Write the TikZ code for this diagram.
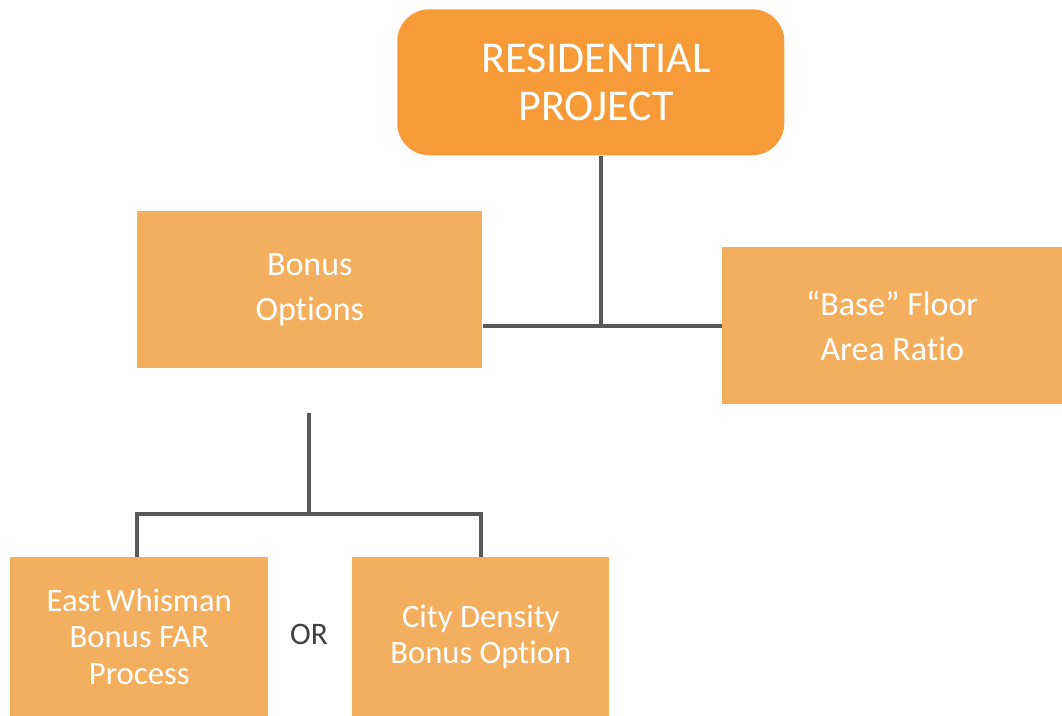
\documentclass[tikz,border=0pt]{standalone}
\usepackage{fontspec}
\setmainfont{Carlito}[Ligatures=NoCommon]
\newcommand{\nolig}{\kern0pt}
\definecolor{topor}{HTML}{F79B38}
\definecolor{boxor}{HTML}{F4AF5E}
\definecolor{linegray}{HTML}{595959}
\definecolor{ortext}{HTML}{404040}
\begin{document}
\begin{tikzpicture}[x=0.75pt,y=-0.75pt,
  box/.style={fill=boxor,draw=none,text=white,align=center,inner sep=0pt,anchor=north west},
  conn/.style={draw=linegray,line width=2.4pt}]
\useasboundingbox (0,0) rectangle (1062,716);
\node[fill=topor,rounded corners=24pt,text=white,align=center,inner sep=0pt,anchor=north west,
  minimum width=387*0.75pt,minimum height=146*0.75pt,
  font=\fontsize{33pt}{36pt}\selectfont] (top) at (397,9) {\hspace*{8pt}RESIDENTIAL\\\hspace*{8pt}PROJECT};
\node[box,minimum width=345*0.75pt,minimum height=157*0.75pt,
  font=\fontsize{25.5pt}{34pt}\selectfont] (bonus) at (137,211) {Bonus\\Opt\nolig ions};
\node[box,minimum width=340*0.75pt,minimum height=157*0.75pt,
  font=\fontsize{25.5pt}{34pt}\selectfont] (base) at (722,247) {“Base” Floor\\Area Rat\nolig io};
\node[box,minimum width=258*0.75pt,minimum height=159*0.75pt,
  font=\fontsize{24.5pt}{27.5pt}\selectfont] (east) at (10,557) {East\,Whisman\\Bonus FAR\\Process};
\node[box,minimum width=257*0.75pt,minimum height=159*0.75pt,
  font=\fontsize{24.5pt}{27.5pt}\selectfont] (city) at (352,557) {City Density\\Bonus Opt\nolig ion};
\node[text=ortext,font=\fontsize{23.5pt}{27.5pt}\selectfont,inner sep=0pt] (or) at (309,634) {OR};
\coordinate (j1) at (601,326);
\coordinate (j2top) at (309,413);
\coordinate (j2) at (309,514);
\coordinate (eL) at (137,514);
\coordinate (cR) at (481,514);
\draw[conn] (top.south -| j1) -- (j1);
\draw[conn] (bonus.east |- j1) -- (base.west |- j1);
\draw[conn] (j2top) -- (j2);
\draw[conn] (east.north -| eL) -- (eL) -- (cR) -- (city.north -| cR);
\end{tikzpicture}
\end{document}
